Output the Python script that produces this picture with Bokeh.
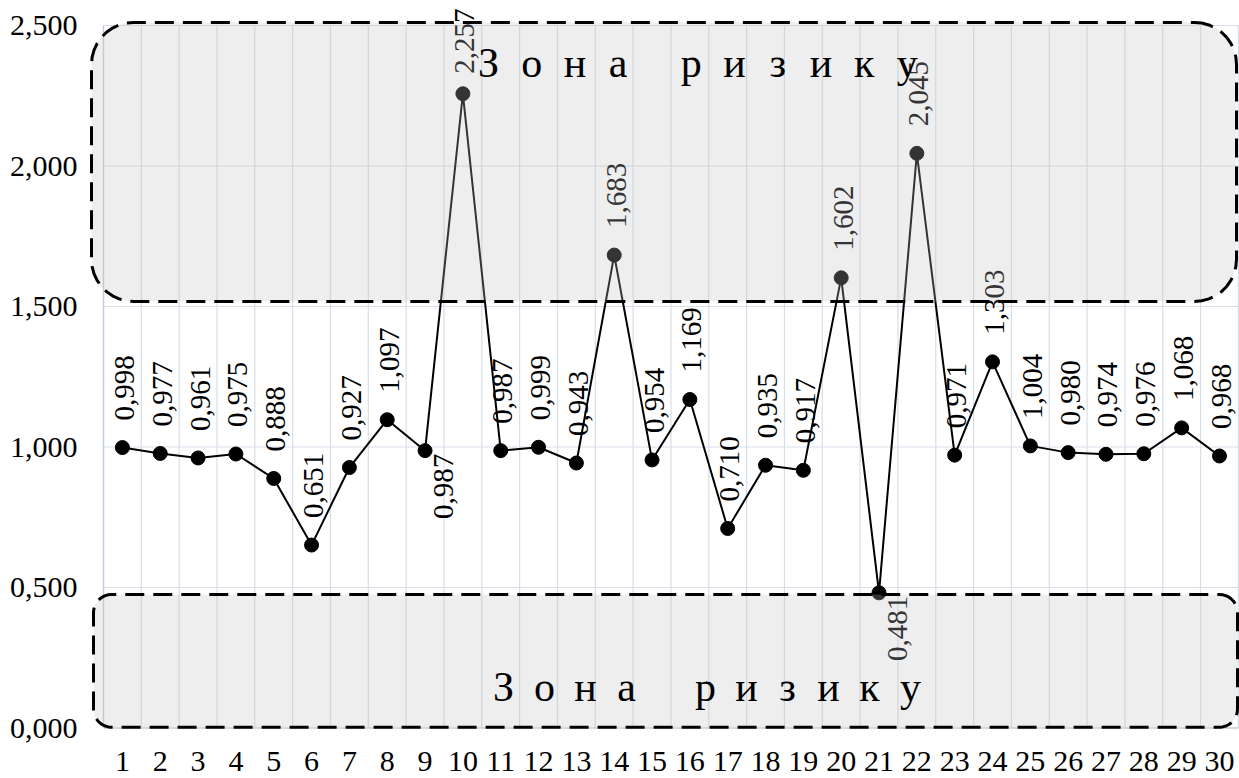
import numpy as np
from bokeh.plotting import figure
from bokeh.models import Range1d, FixedTicker, ColumnDataSource
from bokeh.core.properties import value
from bokeh.embed import file_html
from bokeh.resources import INLINE

# ---------------- data ----------------
categories = list(range(1, 31))
values = [0.998, 0.977, 0.961, 0.975, 0.888, 0.651, 0.927, 1.097, 0.987, 2.257,
          0.987, 0.999, 0.943, 1.683, 0.954, 1.169, 0.710, 0.935, 0.917, 1.602,
          0.481, 2.045, 0.971, 1.303, 1.004, 0.980, 0.974, 0.976, 1.068, 0.968]
value_labels = ["0,998", "0,977", "0,961", "0,975", "0,888", "0,651", "0,927", "1,097", "0,987", "2,257",
                "0,987", "0,999", "0,943", "1,683", "0,954", "1,169", "0,710", "0,935", "0,917", "1,602",
                "0,481", "2,045", "0,971", "1,303", "1,004", "0,980", "0,974", "0,976", "1,068", "0,968"]
labels_below = [9, 21]
y_ticks = [0.0, 0.5, 1.0, 1.5, 2.0, 2.5]
y_tick_labels = ["0,000", "0,500", "1,000", "1,500", "2,000", "2,500"]
zone_text = "Зона ризику"
upper_zone = (1.518, 2.511)
lower_zone = (0.003, 0.475)

# ---------------- geometry ----------------
W, H = 1239, 778
FL, FR, FT, FB = 88, 1239, 4, 730           # frame edges in px
PX_X = 37.83                                 # px per category
PX_Y = 281.0                                 # px per unit
X0_PX, Y0_PX = 103.0, 727.5                  # px of x=0.5 and y=0
LABEL_FS = 29

def xd(px):
    return 0.5 + (px - X0_PX) / PX_X

def yd(py):
    return (Y0_PX - py) / PX_Y

def sy(y):
    return Y0_PX - y * PX_Y

p = figure(width=W, height=H,
           x_range=Range1d(xd(FL), xd(FR)), y_range=Range1d(yd(FB), yd(FT)),
           output_backend="svg", toolbar_location=None,
           min_border_left=FL, min_border_right=W - FR,
           min_border_top=FT, min_border_bottom=H - FB)
p.outline_line_color = None
p.xgrid.visible = False
p.ygrid.visible = False
p.background_fill_color = "white"
p.border_fill_color = "white"

# axes
for ax in (p.xaxis[0], p.yaxis[0]):
    ax.axis_line_color = None
    ax.major_tick_line_color = None
    ax.minor_tick_line_color = None
    ax.major_label_text_font = "Liberation Serif"
    ax.major_label_text_color = "black"
p.xaxis.ticker = FixedTicker(ticks=categories)
p.xaxis.major_label_text_font_size = "30px"
p.xaxis.major_label_standoff = 15
p.yaxis.ticker = FixedTicker(ticks=y_ticks)
p.yaxis.major_label_overrides = {t: l for t, l in zip(y_ticks, y_tick_labels)}
p.yaxis.major_label_text_font_size = "30px"
p.yaxis.major_label_standoff = 5

# grid lines drawn as segments within the plot area
xb = [c - 0.5 for c in categories] + [categories[-1] + 0.5]
p.segment(x0=xb[1:], y0=[y_ticks[0]] * (len(xb) - 1), x1=xb[1:], y1=[y_ticks[-1]] * (len(xb) - 1),
          line_color="#d8dee7", line_width=1.2)
p.segment(x0=[xb[0]] * (len(y_ticks) - 1), y0=y_ticks[1:], x1=[xb[-1]] * (len(y_ticks) - 1), y1=y_ticks[1:],
          line_color="#d8dee7", line_width=1.2)
# axis lines
p.segment(x0=[xb[0], xb[0]], y0=[y_ticks[0], y_ticks[0]], x1=[xb[0], xb[-1]], y1=[y_ticks[-1], y_ticks[0]],
          line_color="#c4cddb", line_width=1.5)

# series
src = ColumnDataSource(dict(x=categories, y=values))
p.line("x", "y", source=src, line_color="black", line_width=2)
p.scatter("x", "y", source=src, size=14, fill_color="black", line_color="black")

# data labels
lab_len = 2.25 * LABEL_FS
xo, yo, align = [], [], []
for c, v in zip(categories, values):
    if c in labels_below:
        xo.append(18)
        yo.append(3)
        align.append("right")
    else:
        off = min(27, sy(v) - 8 - lab_len)
        xo.append(2)
        yo.append(-off)
        align.append("left")
lsrc = ColumnDataSource(dict(x=categories, y=values, t=value_labels, xo=xo, yo=yo, al=align))
p.text("x", "y", text="t", source=lsrc, angle=np.pi / 2, x_offset="xo", y_offset="yo",
       text_align="al", text_baseline="middle", text_color="black",
       text_font=value("Liberation Serif"), text_font_size=f"{LABEL_FS}px")

# risk zones (rounded dashed rectangles overlaid)
def rounded_rect(px0, py0, px1, py1, r, n=10):
    pts = []
    corners = [(px1 - r, py0 + r, -90, 0), (px1 - r, py1 - r, 0, 90),
               (px0 + r, py1 - r, 90, 180), (px0 + r, py0 + r, 180, 270)]
    for cx, cy, a0, a1 in corners:
        for a in np.linspace(np.radians(a0), np.radians(a1), n):
            pts.append((cx + r * np.cos(a), cy + r * np.sin(a)))
    pts.append(pts[0])
    return [xd(q[0]) for q in pts], [yd(q[1]) for q in pts]

zones = [(91, sy(upper_zone[1]), 1236, sy(upper_zone[0]), 42),
         (93, sy(lower_zone[1]), 1237, sy(lower_zone[0]), 18)]
for zx0, zy0, zx1, zy1, r in zones:
    xs, ys = rounded_rect(zx0, zy0, zx1, zy1, r)
    p.patch(xs, ys, fill_color="#bfbfbf", fill_alpha=0.27, line_color="black",
            line_width=3, line_dash="19 9")

# zone captions (letter-spaced)
def spaced(start_px, step, space_extra):
    out, pos = [], start_px
    chars = []
    for ch in zone_text:
        if ch == " ":
            pos += space_extra
            continue
        out.append(xd(pos))
        chars.append(ch)
        pos += step
    return out, chars

for start, step, extra, base in [(488, 43.2, 30, 62), (503, 41.0, 38, 686)]:
    xs, chars = spaced(start, step, extra)
    p.text(xs, [yd(base)] * len(xs), text=chars, text_align="center", text_baseline="alphabetic",
           text_color="black", text_font=value("Liberation Serif"), text_font_size="42px")

open("out.html", "w").write(file_html(p, INLINE))
